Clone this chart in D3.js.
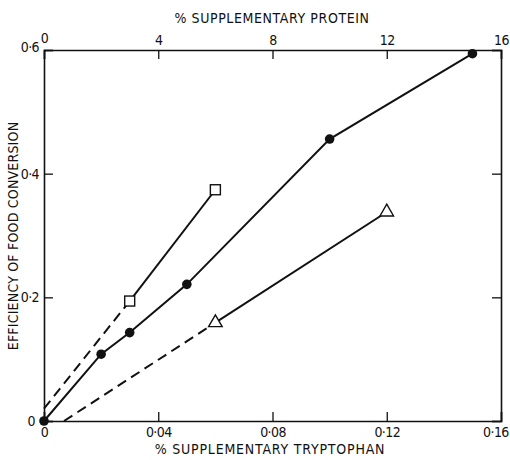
<!DOCTYPE html>
<html><head><meta charset="utf-8">
<script src="https://cdn.jsdelivr.net/npm/d3@7"></script>
<style>body{margin:0;background:#fff}svg{display:block}text{font-family:"DejaVu Sans Condensed","DejaVu Sans",sans-serif;fill:#111}</style>
</head><body><div id="c"></div>
<script>
// Tryptophan series (filled circles), bottom axis
const tryX = [0, 0.02, 0.03, 0.05, 0.10, 0.15];
const tryY = [0, 0.108, 0.143, 0.221, 0.456, 0.594];
// Protein series (squares), top axis
const sqX = [3, 6];
const sqY = [0.194, 0.374];
const sqDashX = [0, 3];
const sqDashY = [0.02, 0.194];
// Protein series (triangles), top axis
const triX = [6, 12];
const triY = [0.159, 0.338];
const triDashX = [0.7, 6];
const triDashY = [0, 0.159];
const bottomTicks = [0, 0.04, 0.08, 0.12, 0.16];
const bottomLabels = ["0", "0·04", "0·08", "0·12", "0·16"];
const topTicks = [0, 4, 8, 12, 16];
const leftTicks = [0, 0.2, 0.4, 0.6];
const leftLabels = ["0", "0·2", "0·4", "0·6"];

const W = 510, H = 460;
const m = {l: 44, r: 9, t: 50, b: 39};
const svg = d3.select("#c").append("svg").attr("width", W).attr("height", H);
const xB = d3.scaleLinear().domain([0, 0.16]).range([m.l, W - m.r]);
const xT = d3.scaleLinear().domain([0, 16]).range([m.l, W - m.r]);
const y = d3.scaleLinear().domain([0, 0.6]).range([H - m.b, m.t]);

// axes with inward ticks
const gb = svg.append("g").attr("transform", `translate(0,${H - m.b})`)
  .call(d3.axisBottom(xB).tickValues(bottomTicks).tickSize(-9).tickPadding(6).tickFormat((d, i) => bottomLabels[i]));
const gt = svg.append("g").attr("transform", `translate(0,${m.t})`)
  .call(d3.axisTop(xT).tickValues(topTicks).tickSize(-9).tickPadding(5).tickFormat(d3.format("d")));
const gl = svg.append("g").attr("transform", `translate(${m.l},0)`)
  .call(d3.axisLeft(y).tickValues(leftTicks).tickSize(-9).tickPadding(5).tickFormat((d, i) => leftLabels[i]));
const gr = svg.append("g").attr("transform", `translate(${W - m.r},0)`)
  .call(d3.axisRight(y).tickValues(leftTicks).tickSize(-9).tickFormat(""));
[gb, gt, gl, gr].forEach(g => {
  g.select(".domain").attr("stroke", "#111").attr("stroke-width", 1.6);
  g.selectAll(".tick line").attr("stroke", "#111").attr("stroke-width", 1.3);
  g.selectAll("text").style("font-size", "14px").style("letter-spacing", "-0.6px").attr("fill", "#111");
});
gl.selectAll(".tick").filter(d => d === 0.6).select("text").attr("dy", "0.1em");
gl.selectAll(".tick").filter(d => d === 0).select("text").attr("dx", "-0.3em");
gt.selectAll(".tick").filter(d => d === 0).select("text").attr("dy", "-0.15em");
gb.selectAll(".tick").filter(d => d === 0.16).select("text").attr("dx", "-0.4em");

// titles
svg.append("text").attr("x", 272).attr("y", 23).attr("text-anchor", "middle")
  .style("font-size", "14px").style("letter-spacing", "0.6px").text("% SUPPLEMENTARY PROTEIN");
svg.append("text").attr("x", 270).attr("y", 454).attr("text-anchor", "middle")
  .style("font-size", "14px").style("letter-spacing", "0.8px").text("% SUPPLEMENTARY TRYPTOPHAN");
svg.append("text").attr("transform", `translate(18,236) rotate(-90)`).attr("text-anchor", "middle")
  .style("font-size", "14px").style("letter-spacing", "0.2px").text("EFFICIENCY OF FOOD CONVERSION");

const line = (xs, ys, sx) => d3.line().x((d, i) => sx(xs[i])).y((d, i) => y(ys[i]))(xs);

svg.append("path").attr("d", line(sqDashX, sqDashY, xT)).attr("fill", "none").attr("stroke", "#111").attr("stroke-width", 2).attr("stroke-dasharray", "10,6");
svg.append("path").attr("d", line(triDashX, triDashY, xT)).attr("fill", "none").attr("stroke", "#111").attr("stroke-width", 2).attr("stroke-dasharray", "10,6");
svg.append("path").attr("d", line(sqX, sqY, xT)).attr("fill", "none").attr("stroke", "#111").attr("stroke-width", 2);
svg.append("path").attr("d", line(triX, triY, xT)).attr("fill", "none").attr("stroke", "#111").attr("stroke-width", 2);
svg.append("path").attr("d", line(tryX, tryY, xB)).attr("fill", "none").attr("stroke", "#111").attr("stroke-width", 2);

svg.selectAll("circle.pt").data(tryX).enter().append("circle")
  .attr("cx", d => xB(d)).attr("cy", (d, i) => y(tryY[i])).attr("r", 4.8).attr("fill", "#111");
svg.selectAll("rect.sq").data(sqX).enter().append("rect")
  .attr("x", d => xT(d) - 5).attr("y", (d, i) => y(sqY[i]) - 5).attr("width", 10).attr("height", 10)
  .attr("fill", "#fff").attr("stroke", "#111").attr("stroke-width", 1.4);
const tri = d3.symbol().type(d3.symbolTriangle).size(80);
svg.selectAll("path.tri").data(triX).enter().append("path")
  .attr("d", tri).attr("transform", (d, i) => `translate(${xT(d)},${y(triY[i])})`)
  .attr("fill", "#fff").attr("stroke", "#111").attr("stroke-width", 1.4);
</script></body></html>
